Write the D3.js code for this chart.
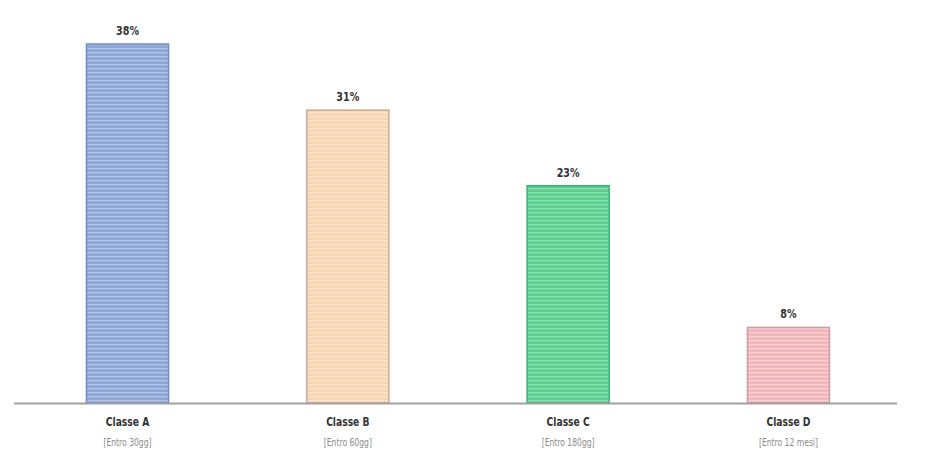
<!DOCTYPE html>
<html><head><meta charset="utf-8">
<script src="https://cdn.jsdelivr.net/npm/d3@7"></script>
<style>
body{margin:0;background:#fff;}
svg{display:block;}
text{font-family:"DejaVu Sans Condensed","DejaVu Sans",sans-serif;font-stretch:condensed;}
</style></head>
<body>
<svg id="c" width="937" height="462"></svg>
<script>
const categories = ["Classe A","Classe B","Classe C","Classe D"];
const subLabels = ["[Entro 30gg]","[Entro 60gg]","[Entro 180gg]","[Entro 12 mesi]"];
const values = [38,31,23,8];
const fills = ["#8ea6d6","#f8d6b2","#5ccf90","#f0b6ba"];
const stripes = ["#b2c4e8","#fce6cf","#8adfae","#f7d0d3"];
const borders = ["#6f8cc6","#c9ab92","#3fb073","#c99ea2"];

const svg = d3.select("#c");
const x = d3.scaleBand().domain(categories).range([17.35, 898.6]).paddingInner(0.623).paddingOuter(0.3115);
const y = d3.scaleLinear().domain([0,38]).range([403,44]);

const defs = svg.append("defs");
categories.forEach((c,i)=>{
  const p = defs.append("pattern").attr("id","p"+i).attr("patternUnits","userSpaceOnUse")
    .attr("width",10).attr("height",4);
  p.append("rect").attr("width",10).attr("height",4).attr("fill",fills[i]);
  p.append("rect").attr("y",0).attr("width",10).attr("height",1.3).attr("fill",stripes[i]);
});

svg.selectAll("rect.bar").data(values).enter().append("rect").attr("class","bar")
  .attr("x",(d,i)=>x(categories[i])+0.5)
  .attr("y",d=>y(d))
  .attr("width",x.bandwidth()-1)
  .attr("height",d=>y(0)-y(d))
  .attr("fill",(d,i)=>"url(#p"+i+")")
  .attr("stroke",(d,i)=>borders[i]).attr("stroke-width",1.5);

svg.append("line").attr("x1",14).attr("x2",897).attr("y1",403.5).attr("y2",403.5)
  .attr("stroke","#a0a0a0").attr("stroke-width",2);

function label(sel, cx, yy, size, weight, color, sx){
  sel.attr("transform",(d,i)=>`translate(${cx(d,i)},${yy(d,i)}) scale(${sx},1)`)
    .attr("text-anchor","middle").attr("font-size",size).attr("font-weight",weight)
    .attr("fill",color);
}

label(svg.selectAll("text.val").data(values).enter().append("text").attr("class","val").text(d=>d+"%"),
  (d,i)=>x(categories[i])+x.bandwidth()/2, d=>y(d)-9, 13, "bold", "#333", 0.82);

label(svg.selectAll("text.cat").data(categories).enter().append("text").attr("class","cat").text(d=>d),
  d=>x(d)+x.bandwidth()/2, ()=>426, 12, "bold", "#333", 0.85);

label(svg.selectAll("text.sub").data(subLabels).enter().append("text").attr("class","sub").text(d=>d),
  (d,i)=>x(categories[i])+x.bandwidth()/2, ()=>446, 10, "normal", "#8a8a8a", 0.85);
</script>
</body></html>
